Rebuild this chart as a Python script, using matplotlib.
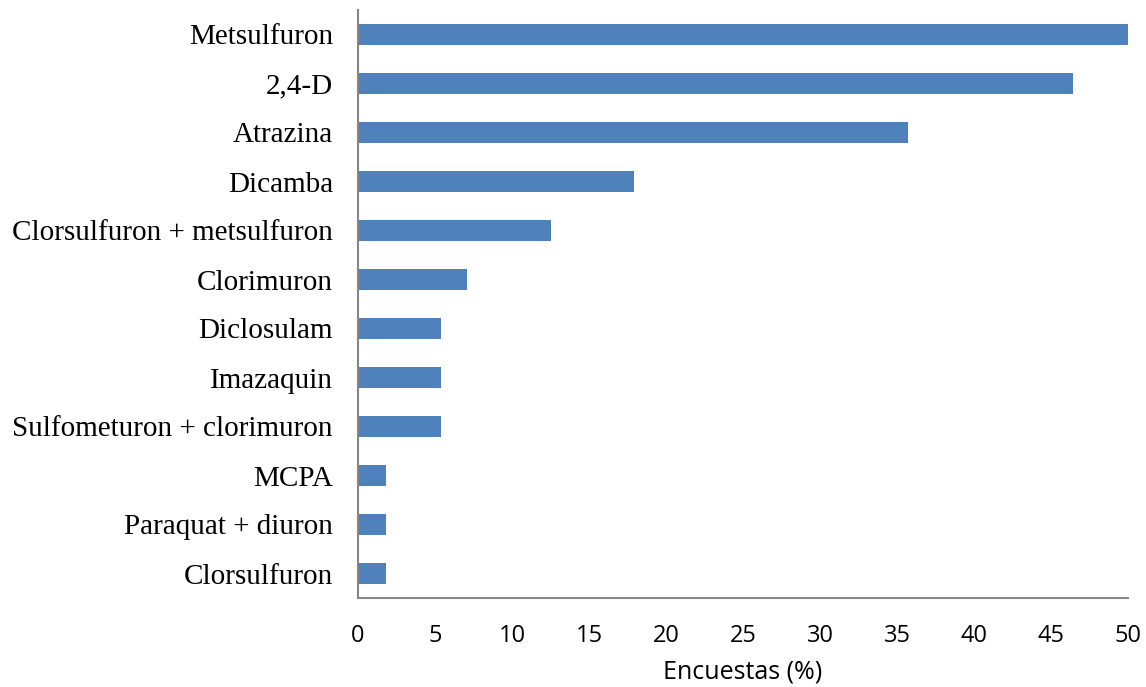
import numpy as np
import matplotlib.pyplot as plt

# herbicidas y porcentaje de encuestas
herbicidas = ['Metsulfuron', '2,4-D', 'Atrazina', 'Dicamba',
              'Clorsulfuron + metsulfuron', 'Clorimuron', 'Diclosulam',
              'Imazaquin', 'Sulfometuron + clorimuron', 'MCPA',
              'Paraquat + diuron', 'Clorsulfuron']
encuestas = [50.0, 46.4, 35.7, 17.9, 12.5, 7.1, 5.4, 5.4, 5.4, 1.8, 1.8, 1.8]
xticks = [0, 5, 10, 15, 20, 25, 30, 35, 40, 45, 50]

fig = plt.figure(figsize=(11.46, 6.87), dpi=100)
ax = fig.add_axes([358 / 1146, 89 / 687, 770 / 1146, 588 / 687])

y = np.arange(len(herbicidas))
ax.barh(y, encuestas, height=0.41, color='#4F81BD')
ax.set_ylim(len(herbicidas) - 0.5, -0.5)
ax.set_xlim(0, 50)

ax.set_yticks(y)
ax.set_yticklabels(herbicidas, family='Liberation Serif', fontsize=21)
ax.set_xticks(xticks)
ax.set_xticklabels([str(t) for t in xticks], family='Open Sans', fontsize=17)
ax.tick_params(length=0, axis='y', pad=18)
ax.tick_params(length=0, axis='x', pad=19)
ax.set_xlabel('Encuestas (%)', family='Open Sans', fontsize=18, labelpad=8)

for s in ['top', 'right']:
    ax.spines[s].set_visible(False)
for s in ['left', 'bottom']:
    ax.spines[s].set_color('#868686')
    ax.spines[s].set_linewidth(1.5)

fig.savefig('out.png', dpi=100)
